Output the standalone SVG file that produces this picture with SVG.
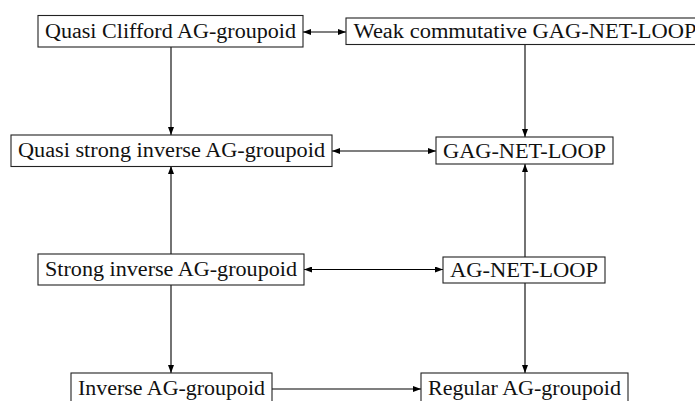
<svg xmlns="http://www.w3.org/2000/svg" width="695" height="401" viewBox="0 0 695 401">
<defs>
<marker id="ah" viewBox="0 0 8 6" refX="8" refY="3" markerWidth="8" markerHeight="6" markerUnits="userSpaceOnUse" orient="auto-start-reverse">
<path d="M0,0 L8,3 L0,6 Z" fill="#000"/>
</marker>
</defs>
<style>
rect{fill:#fff;stroke:#222;stroke-width:1.1}
text{font-family:"Liberation Serif","Times New Roman",serif;font-size:20px;fill:#111;text-anchor:middle}
.c line{stroke:#000;stroke-width:1.1;fill:none}
</style>
<rect x="0" y="0" width="695" height="401" style="fill:#fff;stroke:none"/>
<g class="c" id="connectors">
<line x1="303" y1="32" x2="346" y2="32" marker-start="url(#ah)" marker-end="url(#ah)"/>
<line x1="171" y1="47" x2="171" y2="135" marker-end="url(#ah)"/>
<line x1="525" y1="44" x2="525" y2="137" marker-end="url(#ah)"/>
<line x1="332" y1="151" x2="436" y2="151" marker-start="url(#ah)" marker-end="url(#ah)"/>
<line x1="171" y1="254" x2="171" y2="166" marker-end="url(#ah)"/>
<line x1="525" y1="257" x2="525" y2="164" marker-end="url(#ah)"/>
<line x1="304" y1="269.5" x2="443" y2="269.5" marker-start="url(#ah)" marker-end="url(#ah)"/>
<line x1="171" y1="285" x2="171" y2="373" marker-end="url(#ah)"/>
<line x1="525" y1="283" x2="525" y2="373" marker-end="url(#ah)"/>
<line x1="272" y1="389" x2="421" y2="389" marker-end="url(#ah)"/>
</g>
<g id="n1"><rect x="38" y="15.5" width="265" height="31.5"/><text x="170.5" y="37.5" textLength="251" lengthAdjust="spacingAndGlyphs">Quasi Clifford AG-groupoid</text></g>
<g id="n2"><rect x="346" y="18" width="358" height="26.5"/><text x="525" y="37.5" textLength="343" lengthAdjust="spacingAndGlyphs">Weak commutative GAG-NET-LOOP</text></g>
<g id="n3"><rect x="11" y="135" width="321" height="31.5"/><text x="171.5" y="157" textLength="307" lengthAdjust="spacingAndGlyphs">Quasi strong inverse AG-groupoid</text></g>
<g id="n4"><rect x="436" y="137" width="177" height="27"/><text x="524.5" y="157.5" textLength="163" lengthAdjust="spacingAndGlyphs">GAG-NET-LOOP</text></g>
<g id="n5"><rect x="38" y="254" width="266" height="31"/><text x="171" y="275.5" textLength="252" lengthAdjust="spacingAndGlyphs">Strong inverse AG-groupoid</text></g>
<g id="n6"><rect x="443" y="257" width="162" height="26"/><text x="524" y="276.5" textLength="148" lengthAdjust="spacingAndGlyphs">AG-NET-LOOP</text></g>
<g id="n7"><rect x="71" y="373" width="201" height="32"/><text x="171.5" y="395" textLength="187" lengthAdjust="spacingAndGlyphs">Inverse AG-groupoid</text></g>
<g id="n8"><rect x="421" y="373" width="207" height="32"/><text x="524.5" y="395" textLength="193" lengthAdjust="spacingAndGlyphs">Regular AG-groupoid</text></g>
</svg>
